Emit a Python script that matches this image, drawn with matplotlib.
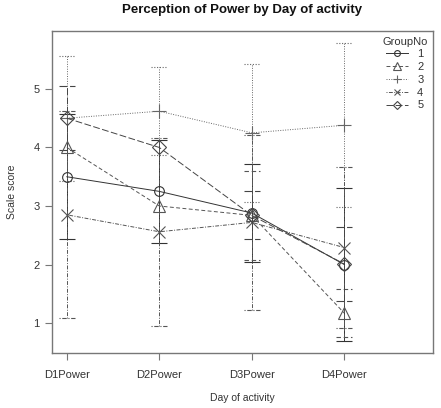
import matplotlib
matplotlib.use('Agg')
import matplotlib.pyplot as plt
import numpy as np

plt.rcParams['font.family'] = ['Liberation Sans', 'DejaVu Sans']

# valores
dias = ['D1Power', 'D2Power', 'D3Power', 'D4Power']
grupos = ['1', '2', '3', '4', '5']

media_g1 = [3.50, 3.25, 2.88, 2.00]
media_g2 = [4.00, 3.00, 2.84, 1.17]
media_g3 = [4.50, 4.62, 4.25, 4.38]
media_g4 = [2.85, 2.56, 2.72, 2.29]
media_g5 = [4.50, 4.00, 2.84, 2.01]

erro_g1 = [1.07, 0.88, 0.83, 1.31]
erro_g2 = [0.00, 0.00, 0.76, 0.41]
erro_g3 = [1.07, 0.75, 1.18, 1.40]
erro_g4 = [1.77, 1.61, 1.50, 1.38]
erro_g5 = [0.55, 0.00, 0.41, 0.63]

medias = [media_g1, media_g2, media_g3, media_g4, media_g5]
erros = [erro_g1, erro_g2, erro_g3, erro_g4, erro_g5]

estilos = ['-', (0, (4, 2.5)), (0, (1, 1.5)), (0, (1, 1.5, 4, 1.5)), (0, (7, 2.5))]
marcadores = ['o', '^', '+', 'x', 'D']
tamanhos = [7, 9, 10, 8, 7]
cores = ['#333333', '#555555', '#666666', '#555555', '#444444']

x = np.arange(1, len(dias) + 1)

fig = plt.figure(figsize=(4.41, 4.08), dpi=100)
ax = fig.add_axes([0.118, 0.135, 0.864, 0.789])

for i in range(len(grupos)):
    m = np.array(medias[i])
    e = np.array(erros[i])
    ax.plot(x, m, linestyle=estilos[i], color=cores[i], linewidth=0.7,
            marker=marcadores[i], markersize=tamanhos[i], markerfacecolor='none',
            markeredgecolor=cores[i], markeredgewidth=0.8, label=grupos[i], zorder=3)
    tem = e > 0
    ax.vlines(x[tem], (m - e)[tem], (m + e)[tem], linestyles=[estilos[i]],
              colors=cores[i], linewidth=0.7, zorder=2)
    for lim in (m - e, m + e):
        ax.hlines(lim[tem], x[tem] - 0.085, x[tem] + 0.085, linestyles=[estilos[i]],
                  colors=cores[i], linewidth=0.8, zorder=2)

ax.set_xlim(0.84, 4.96)
ax.set_ylim(0.49, 5.99)
ax.set_xticks(x)
ax.set_xticklabels(dias)
ax.set_yticks([1, 2, 3, 4, 5])

for s in ax.spines.values():
    s.set_color('#777777')
    s.set_linewidth(1.0)
ax.tick_params(colors='#777777', labelcolor='#333333', length=5, width=0.8,
               labelsize=8)
ax.tick_params(axis='x', pad=7)
ax.tick_params(axis='y', pad=4)

ax.set_title('Perception of Power by Day of activity', fontsize=9.5,
             fontweight='bold', color='#111111', pad=13)
ax.set_xlabel('Day of activity', fontsize=7.5, color='#333333', labelpad=10)
ax.set_ylabel('Scale score', fontsize=7.5, color='#333333', labelpad=12)

leg = ax.legend(title='GroupNo', loc='upper right', frameon=False, fontsize=8,
                title_fontsize=8, handlelength=2.0, handletextpad=0.8,
                labelspacing=0.25, borderaxespad=0.1, markerscale=0.6)
for t in leg.get_texts():
    t.set_color('#333333')
leg.get_title().set_color('#333333')

fig.savefig('out.png', dpi=100)
